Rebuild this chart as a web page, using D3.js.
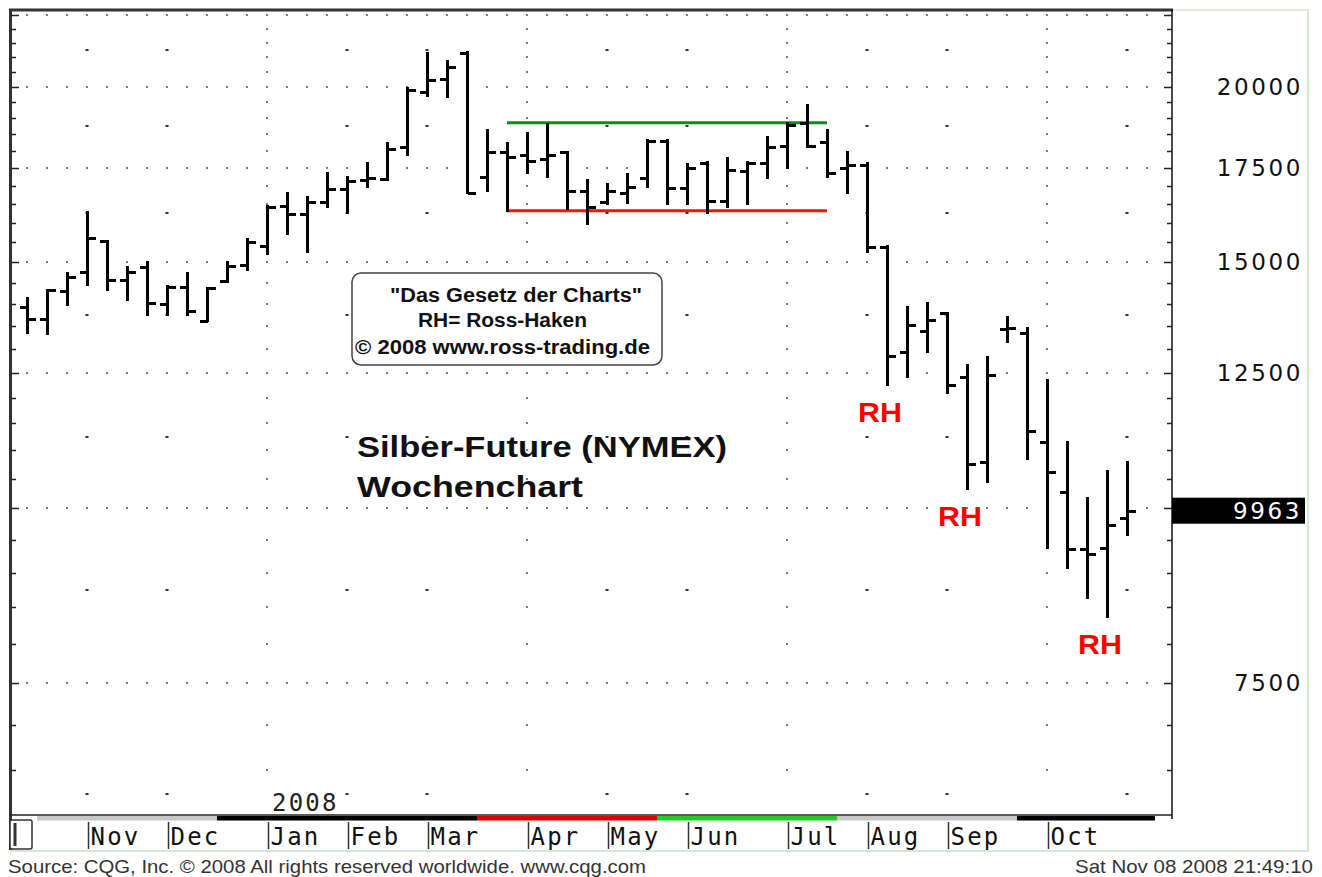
<!DOCTYPE html>
<html><head><meta charset="utf-8">
<script src="https://cdn.jsdelivr.net/npm/d3@7"></script>
<style>html,body{margin:0;padding:0;background:#fff;}svg{display:block}</style>
</head><body>
<svg id="c" width="1322" height="877"></svg>
<script>
// ---------- data ----------
const weeks = ["2007-10-19","2007-10-26","2007-11-02","2007-11-09","2007-11-16","2007-11-23","2007-11-30",
  "2007-12-07","2007-12-14","2007-12-21","2007-12-28","2008-01-04","2008-01-11","2008-01-18","2008-01-25",
  "2008-02-01","2008-02-08","2008-02-15","2008-02-22","2008-02-29","2008-03-07","2008-03-14","2008-03-21",
  "2008-03-28","2008-04-04","2008-04-11","2008-04-18","2008-04-25","2008-05-02","2008-05-09","2008-05-16",
  "2008-05-23","2008-05-30","2008-06-06","2008-06-13","2008-06-20","2008-06-27","2008-07-04","2008-07-11",
  "2008-07-18","2008-07-25","2008-08-01","2008-08-08","2008-08-15","2008-08-22","2008-08-29","2008-09-05",
  "2008-09-12","2008-09-19","2008-09-26","2008-10-03","2008-10-10","2008-10-17","2008-10-24","2008-10-31",
  "2008-11-07"];
const open  = [13930,13660,14310,14760,15530,14570,14880,14000,14400,13620,14540,14930,15400,16450,16230,
  16560,16920,17170,17200,18120,19840,20270,21150,17250,17970,17890,17770,17970,16860,16560,16800,17220,
  18300,16940,17650,16590,17420,17650,18150,18850,18270,17510,17600,15380,12940,13380,13800,12420,10800,
  13440,13350,11160,10280,9360,9370,9840];
const high  = [14140,14330,14740,16290,15530,14880,15000,14420,14740,14380,15000,15580,16450,16800,16690,
  17370,17250,17650,18240,19970,21150,20870,21180,18640,18240,18550,18820,17970,17170,17050,17340,18330,
  18330,17620,17680,17800,17680,18420,18850,19420,18640,17970,17650,15400,13930,14030,13800,12670,12820,
  13710,13460,12360,11160,10180,10640,10800];
const low   = [13350,13330,13980,14450,14330,14100,13750,13750,13750,13600,14520,14810,15200,15710,15250,
  16420,16260,16970,17170,17890,19710,19670,16800,16860,16320,17370,17250,16370,15970,16500,16530,16970,
  16500,16500,16260,16420,16500,17220,17510,18120,17250,16800,15250,12260,12420,12940,12100,10320,10450,
  13140,10840,9370,9070,8630,8370,9570];
const close = [13660,14330,14640,15610,14570,14760,14030,14400,13840,14380,14910,15500,16420,16230,16560,
  16920,17140,17220,18060,19900,20230,20670,16800,17970,17830,17710,17890,16860,16420,16860,16970,18300,
  16940,17510,16590,17450,17650,18120,18790,18150,17370,17600,15380,12840,13530,13640,12260,10750,12460,
  13460,11350,10610,9360,9280,9730,9963];

const monthLabels = ["Nov","Dec","Jan","Feb","Mar","Apr","May","Jun","Jul","Aug","Sep","Oct"];
const monthWeeks  = ["2007-11-09","2007-12-07","2008-01-11","2008-02-08","2008-03-07","2008-04-11",
  "2008-05-09","2008-06-06","2008-07-11","2008-08-08","2008-09-05","2008-10-10"];
const quarterWeeks = ["2008-01-11","2008-04-11","2008-07-11","2008-10-10"];
const otherMonthWeeks = ["2007-11-09","2007-12-07","2008-02-08","2008-03-07","2008-05-09","2008-06-06",
  "2008-08-08","2008-09-05","2008-11-07"];
const yearLabel = "2008";
const priceLabels = [7500,12500,15000,17500,20000];
const majorLevels = [7500,10000,12500,15000,17500,20000,22500];
const halfLevels = [6250,8750,11250,13750,16250,18750,21250];
const lastPrice = 9963;
const rangeHigh = 18860, rangeLow = 16320;
const rangeFrom = "2008-04-04", rangeTo = "2008-07-25";
const rhWeeks = ["2008-08-15","2008-09-12","2008-10-31"];
const stripFrom = ["2007-10-26","2007-12-28","2008-03-28","2008-05-30","2008-08-01","2008-10-03"];
const stripTo   = ["2007-12-21","2008-03-21","2008-05-23","2008-07-25","2008-09-26","2008-11-07"];

// ---------- layout ----------
const svg = d3.select("#c");
const P = {l:10, r:1172, t:10, b:815};
const x = d3.scalePoint().domain(weeks).range([27, 1127]);
const step = x.step();
const y = d3.scaleLog().domain([6040, 22700]).range([P.b, P.t]);

svg.append("rect").attr("width",1322).attr("height",877).attr("fill","#fff");

// outer light-green frame
svg.append("line").attr("x1",1308).attr("x2",1308).attr("y1",10).attr("y2",851).attr("stroke","#d3e9d3").attr("stroke-width",2);
svg.append("line").attr("x1",10).attr("x2",1309).attr("y1",851).attr("y2",851).attr("stroke","#d3e9d3").attr("stroke-width",2);
svg.append("line").attr("x1",1172).attr("x2",1309).attr("y1",10).attr("y2",10).attr("stroke","#d3e9d3").attr("stroke-width",1.5);

// grid dots
const g = svg.append("g");
const rowXs = weeks.map(w => x(w)).concat([x(weeks[weeks.length-1]) + step]);
majorLevels.forEach(v => {
  const yy = Math.round(y(v));
  if (yy < P.t || yy > P.b) return;
  rowXs.forEach(xx => g.append("rect").attr("x",xx-1).attr("y",yy-1).attr("width",2).attr("height",2).attr("fill","#7a7a7a"));
});
const minorLevels = d3.range(6500, 23000, 500);
quarterWeeks.forEach(w => {
  const xx = x(w);
  minorLevels.forEach(v => {
    const yy = Math.round(y(v));
    if (yy < P.t+5 || yy > P.b-5) return;
    g.append("rect").attr("x",xx-1).attr("y",yy-1).attr("width",2).attr("height",2).attr("fill","#7a7a7a");
  });
});
otherMonthWeeks.forEach(w => {
  const xx = x(w);
  halfLevels.forEach(v => {
    const yy = Math.round(y(v));
    if (yy < P.t+5 || yy > P.b-5) return;
    g.append("rect").attr("x",xx-1.5).attr("y",yy-1).attr("width",3).attr("height",2).attr("fill","#333");
  });
});

// range lines
svg.append("line").attr("x1",x(rangeFrom)).attr("x2",x(rangeTo)).attr("y1",y(rangeHigh)).attr("y2",y(rangeHigh))
  .attr("stroke","#138a13").attr("stroke-width",3);
svg.append("line").attr("x1",x(rangeFrom)).attr("x2",x(rangeTo)).attr("y1",y(rangeLow)).attr("y2",y(rangeLow))
  .attr("stroke","#ff1010").attr("stroke-width",3);

// OHLC bars
const bars = svg.append("g").attr("stroke","#000").attr("stroke-width",3).attr("shape-rendering","crispEdges");
weeks.forEach((w,i) => {
  const xx = Math.round(x(w)) + 0.5;
  bars.append("line").attr("x1",xx).attr("x2",xx).attr("y1",y(high[i])-1).attr("y2",y(low[i])+1);
  bars.append("line").attr("x1",xx-8).attr("x2",xx).attr("y1",Math.round(y(open[i]))+0.5).attr("y2",Math.round(y(open[i]))+0.5);
  bars.append("line").attr("x1",xx).attr("x2",xx+8).attr("y1",Math.round(y(close[i]))+0.5).attr("y2",Math.round(y(close[i]))+0.5);
});

// info box
svg.append("rect").attr("x",352).attr("y",273).attr("width",310).attr("height",92).attr("rx",9)
  .attr("fill","#fff").attr("stroke","#444").attr("stroke-width",1.5);
const boxT = svg.append("g").attr("font-family","Liberation Sans, Arial, sans-serif").attr("font-weight","bold")
  .attr("font-size",20).attr("fill","#111");
boxT.append("text").attr("x",390).attr("y",302).attr("textLength",252).attr("lengthAdjust","spacingAndGlyphs").text("\"Das Gesetz der Charts\"");
boxT.append("text").attr("x",418).attr("y",327).attr("textLength",169).attr("lengthAdjust","spacingAndGlyphs").text("RH= Ross-Haken");
boxT.append("text").attr("x",355).attr("y",354).attr("textLength",295).attr("lengthAdjust","spacingAndGlyphs").text("© 2008 www.ross-trading.de");

// title
const tt = svg.append("g").attr("font-family","Liberation Sans, Arial, sans-serif").attr("font-weight","bold")
  .attr("font-size",30).attr("fill","#111");
tt.append("text").attr("x",357).attr("y",457).attr("textLength",370).attr("lengthAdjust","spacingAndGlyphs").text("Silber-Future (NYMEX)");
tt.append("text").attr("x",357).attr("y",497).attr("textLength",226).attr("lengthAdjust","spacingAndGlyphs").text("Wochenchart");

// RH labels
rhWeeks.forEach(w => {
  const i = weeks.indexOf(w);
  svg.append("text").attr("x",x(w)-29).attr("y",y(low[i])+37)
    .attr("font-family","Liberation Sans, Arial, sans-serif").attr("font-weight","bold").attr("font-size",28)
    .attr("fill","#ff0000").attr("textLength",44).attr("lengthAdjust","spacingAndGlyphs").text("RH");
});

// plot borders
svg.append("line").attr("x1",9).attr("x2",1173).attr("y1",10).attr("y2",10).attr("stroke","#333").attr("stroke-width",3);
svg.append("line").attr("x1",10.5).attr("x2",10.5).attr("y1",9).attr("y2",850).attr("stroke","#333").attr("stroke-width",3);
svg.append("line").attr("x1",P.r).attr("x2",P.r).attr("y1",9).attr("y2",819).attr("stroke","#111").attr("stroke-width",1.5);
svg.append("line").attr("x1",10).attr("x2",P.r).attr("y1",P.b).attr("y2",P.b).attr("stroke","#222").attr("stroke-width",1.5);

// price ticks, left and right
const ticks = svg.append("g").attr("stroke","#222").attr("stroke-width",1.5);
minorLevels.forEach(v => {
  const yy = Math.round(y(v)) + 0.5;
  if (yy < P.t+3 || yy > P.b-3) return;
  const len = (v % 2500 === 0) ? 8 : 5;
  ticks.append("line").attr("x1",P.r-len).attr("x2",P.r).attr("y1",yy).attr("y2",yy);
  ticks.append("line").attr("x1",11).attr("x2",11+len).attr("y1",yy).attr("y2",yy);
});

// right axis labels
const axT = svg.append("g").attr("font-family","DejaVu Sans, sans-serif").attr("font-size",23)
  .attr("fill","#111").attr("text-anchor","end").attr("letter-spacing",2.6);
priceLabels.forEach(v => {
  axT.append("text").attr("x",1303).attr("y",y(v)+8).text(v);
});
// last price box
svg.append("rect").attr("x",P.r).attr("y",y(lastPrice)-13).attr("width",133).attr("height",26).attr("fill","#000");
svg.append("text").attr("x",1302).attr("y",y(lastPrice)+8).attr("font-family","DejaVu Sans, sans-serif")
  .attr("font-size",23).attr("letter-spacing",2.6).attr("text-anchor","end").attr("fill","#fff").text(lastPrice);

// contract strip
const stripColors = ["#c8c8c8","#000","#dd0000","#22cc22","#c8c8c8","#000"];
stripFrom.forEach((f,i) => {
  const x0 = x(f) - step/2, x1 = x(stripTo[i]) + step/2 + (i===stripFrom.length-1 ? 18 : 0);
  svg.append("rect").attr("x",x0).attr("y",816).attr("width",x1-x0).attr("height",4.5).attr("fill",stripColors[i]);
});

// month separators & labels
const mT = svg.append("g").attr("font-family","DejaVu Sans Mono, monospace").attr("font-size",24)
  .attr("fill","#111").attr("letter-spacing",2.2);
monthWeeks.forEach((w,i) => {
  const xx = Math.round(x(w)) + 1.5;
  svg.append("line").attr("x1",xx).attr("x2",xx).attr("y1",822).attr("y2",849).attr("stroke","#333").attr("stroke-width",1.5);
  mT.append("text").attr("x",xx+2).attr("y",845).text(monthLabels[i]);
});
svg.append("text").attr("x",x("2008-01-11")+5).attr("y",811).attr("font-family","DejaVu Sans Mono, monospace")
  .attr("font-size",24).attr("letter-spacing",2.2).attr("fill","#222").text(yearLabel);

// scroll box bottom-left
svg.append("rect").attr("x",10).attr("y",820).attr("width",22).attr("height",29).attr("rx",2)
  .attr("fill","#fff").attr("stroke","#333").attr("stroke-width",1.5);
svg.append("line").attr("x1",15).attr("x2",15).attr("y1",823).attr("y2",846).attr("stroke","#333").attr("stroke-width",3);

// footer
svg.append("text").attr("x",8).attr("y",873).attr("font-family","Liberation Sans, Arial, sans-serif")
  .attr("font-size",19).attr("fill","#333").attr("textLength",638).attr("lengthAdjust","spacingAndGlyphs")
  .text("Source: CQG, Inc. © 2008 All rights reserved worldwide. www.cqg.com");
svg.append("text").attr("x",1075).attr("y",873).attr("font-family","Liberation Sans, Arial, sans-serif")
  .attr("font-size",19).attr("fill","#333").attr("textLength",238).attr("lengthAdjust","spacingAndGlyphs")
  .text("Sat Nov 08 2008 21:49:10");
</script>
</body></html>
